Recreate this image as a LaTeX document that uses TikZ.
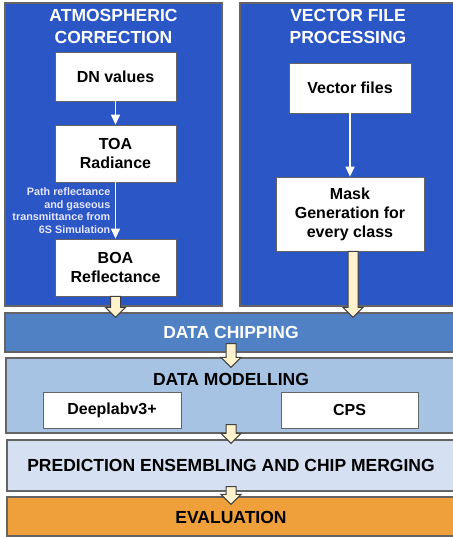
\documentclass[tikz,border=0pt]{standalone}
\usepackage{fontspec}
\setmainfont{Liberation Sans}
\usetikzlibrary{arrows.meta,calc}

\definecolor{panelblue}{RGB}{43,86,198}
\definecolor{chipblue}{RGB}{80,129,197}
\definecolor{modelblue}{RGB}{166,195,228}
\definecolor{predblue}{RGB}{213,225,242}
\definecolor{evalorange}{RGB}{240,160,58}
\definecolor{cream}{RGB}{255,242,204}
\definecolor{edge}{RGB}{100,100,100}

\newcommand{\fatarrow}[2]{%
  \draw[fatarrow] let \p1=(#1), \p2=(#2) in
    (\x1-5pt,\y1) -- (\x1-5pt,\y2+10pt) -- (\x1-10pt,\y2+10pt) -- (\x1,\y2)
    -- (\x1+10pt,\y2+10pt) -- (\x1+5pt,\y2+10pt) -- (\x1+5pt,\y1) -- cycle;}

\begin{document}
\begin{tikzpicture}[
      x=1pt, y=-1pt,
      panel/.style={draw=edge,line width=1.2pt,inner sep=0},
      title/.style={font=\fontsize{17.5}{21.5}\selectfont\bfseries,align=center},
      wbox/.style={draw=edge,line width=0.8pt,fill=white,inner sep=0,
        font=\fontsize{16}{19}\selectfont\bfseries,align=center},
      flow/.style={-{Triangle[length=10pt,width=9pt]},white,line width=1.4pt},
      note/.style={font=\fontsize{10.8}{12.7}\selectfont\bfseries,text=white!90!blue,align=right,inner sep=0},
      fatarrow/.style={draw=black!75,fill=cream,line width=1pt,line join=miter},
      ]
      \useasboundingbox (0,0) rectangle (452,537);
      \def\lcol{115.5}
      \def\rcol{350}
      \def\mid{231}

      % upper panels
      \node[panel,fill=panelblue,minimum width=217,minimum height=303] (atm) at (113.5,154.5) {};
      \node[panel,fill=panelblue,minimum width=217,minimum height=303] (vec) at (348.5,154.5) {};
      \node[title,white] (atmtitle) at (113.5,26.5) {ATMOSPHERIC\\CORRECTION};
      \node[title,white] (vectitle) at (348,26.5) {VECTOR FILE\\PROCESSING};

      \node[wbox,minimum width=121,minimum height=49] (dn) at (\lcol,76.5) {DN values};
      \node[wbox,minimum width=121,minimum height=57] (toa) at (\lcol,153.5) {TOA\\Radiance};
      \node[wbox,minimum width=121,minimum height=57] (boa) at (\lcol,267.5) {BOA\\Reflectance};
      \draw[flow] (dn) -- (toa);
      \draw[flow] (toa) -- (boa);
      \node[note,anchor=east] (path) at ([xshift=-5pt]$(toa.south)!0.5!(boa.north)$)
        {Path reflectance\\and gaseous\\transmittance from\\6S Simulation};

      \node[wbox,minimum width=122,minimum height=50] (vfiles) at (\rcol,88) {Vector files};
      \node[wbox,minimum width=148,minimum height=74] (mask) at (\rcol,214) {Mask\\Generation for\\every class};
      \draw[flow] (vfiles) -- (mask);
      \coordinate (maskout) at ([xshift=3pt]mask.south);

      % lower bars
      \node[panel,fill=chipblue,minimum width=452,minimum height=39] (chip) at (\mid,332.5) {};
      \node[title,white] (chiptitle) at (chip) {DATA CHIPPING};
      \node[panel,fill=modelblue,minimum width=451,minimum height=75] (model) at (\mid.5,395.5) {};
      \node[title] (modeltitle) at (\mid,379) {DATA MODELLING};
      \node[wbox,minimum width=138,minimum height=36] (deeplab) at (112,410) {Deeplabv3+};
      \node[wbox,minimum width=137,minimum height=36] (cps) at (349.5,410) {CPS};
      \node[panel,fill=predblue,minimum width=450,minimum height=51] (pred) at (232,465.5) {};
      \node[title] (predtitle) at (\mid,465.5) {PREDICTION ENSEMBLING AND CHIP MERGING};
      \node[panel,fill=evalorange,minimum width=450,minimum height=39] (eval) at (232,516.5) {};
      \node[title] (evaltitle) at (\mid,517) {EVALUATION};

      % block arrows
      \fatarrow{boa.south}{[yshift=-5pt]boa.south |- chip.north}
      \fatarrow{maskout}{[yshift=-5pt]maskout |- chip.north}
      \fatarrow{[yshift=9pt]chip.south}{[yshift=-10pt]chip.south |- model.north}
      \fatarrow{[yshift=9pt]chip.south |- model.south}{[yshift=-4pt]chip.south |- pred.north}
      \fatarrow{[yshift=5pt]chip.south |- pred.south}{[yshift=-8pt]chip.south |- eval.north}
\end{tikzpicture}
\end{document}
